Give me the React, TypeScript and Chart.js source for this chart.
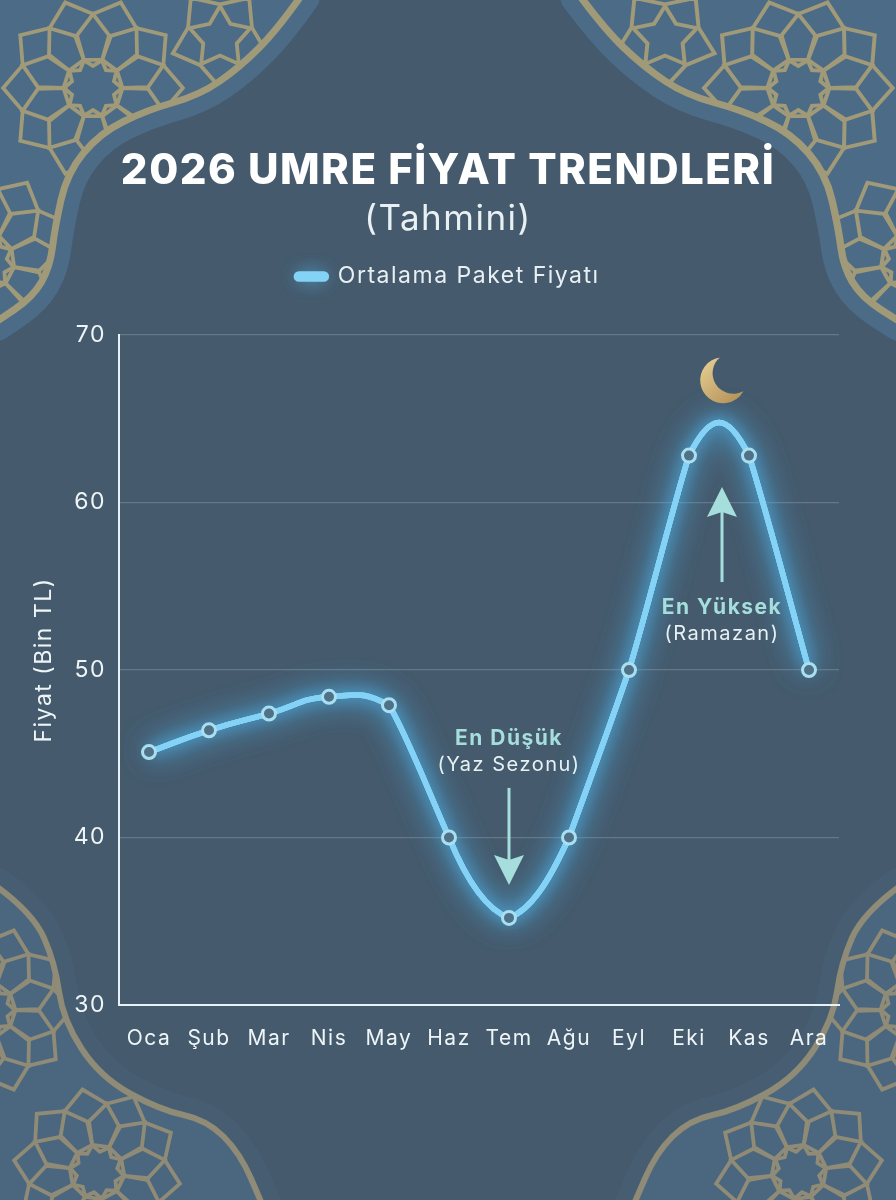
import { useEffect, useRef } from "react";
import { Chart, registerables, layouts } from "chart.js";

Chart.register(...registerables);

const months = ["Oca", "Şub", "Mar", "Nis", "May", "Haz", "Tem", "Ağu", "Eyl", "Eki", "Kas", "Ara"];
const prices = [45.1, 46.4, 47.4, 48.4, 47.9, 40, 35.2, 40, 50, 62.8, 62.8, 50];
const yTicks = [30, 40, 50, 60, 70];

const FONT = "Inter";
const TEAL = "#a6dedd";
const LINE = "#85d2f7";
const SPACING = "1.5px"; // Inter is narrower than the font in the picture

// spline handles for the steep stretches, [inDx, inDy, outDx, outDy] per month index
const handles: Record<number, number[]> = {
  4: [-26, -14, 16, 26],
  5: [-22, -50, 18, 44],
  6: [-22, -8, 22, -8],
  7: [-20, 44, 16, -44],
  8: [-17, 50, 17, -55],
  9: [-16, 50, 22, -44],
  10: [-22, -44, 16, 50],
  11: [-14, -50, 14, 50],
};

// frame curves for the left-hand corners, the right-hand ones are mirrored
const topCorner = [[301, -4], [277, 30], [240, 67], [200, 95], [147, 110], [100, 133], [67, 173], [55, 227], [50, 267], [33, 297], [-4, 322]];
const bottomCorner = [[-4, 886], [33, 913], [55, 963], [63, 1020], [100, 1077], [160, 1110], [207, 1120], [240, 1153], [262, 1204]];

function traceCurve(ctx: CanvasRenderingContext2D, pts: number[][]) {
  ctx.moveTo(pts[0][0], pts[0][1]);
  for (let i = 1; i < pts.length - 1; i++) {
    const mx = (pts[i][0] + pts[i + 1][0]) / 2;
    const my = (pts[i][1] + pts[i + 1][1]) / 2;
    ctx.quadraticCurveTo(pts[i][0], pts[i][1], mx, my);
  }
  const last = pts[pts.length - 1];
  ctx.lineTo(last[0], last[1]);
}

function polar(cx: number, cy: number, r: number, deg: number) {
  const a = (deg * Math.PI) / 180;
  return [cx + r * Math.cos(a), cy + r * Math.sin(a)];
}

function poly(ctx: CanvasRenderingContext2D, pts: number[][]) {
  ctx.beginPath();
  pts.forEach((p, i) => (i ? ctx.lineTo(p[0], p[1]) : ctx.moveTo(p[0], p[1])));
  ctx.closePath();
  ctx.stroke();
}

// ten pointed star with a ring of pentagon petals around it
function rosette(ctx: CanvasRenderingContext2D, cx: number, cy: number, r: number, rot: number) {
  const star: number[][] = [];
  for (let i = 0; i < 20; i++) star.push(polar(cx, cy, i % 2 ? r * 0.76 : r, rot + i * 18));
  poly(ctx, star);
  const ring: number[][] = [];
  for (let i = 0; i < 10; i++) {
    const a = rot + 18 + i * 36;
    poly(ctx, [
      polar(cx, cy, r * 1.02, a - 18),
      polar(cx, cy, r * 1.9, a - 17),
      polar(cx, cy, r * 2.55, a),
      polar(cx, cy, r * 1.9, a + 17),
      polar(cx, cy, r * 1.02, a + 18),
    ]);
    ring.push(polar(cx, cy, r * 2.55, a));
    ring.push(polar(cx, cy, r * 3.1, a + 18));
  }
  poly(ctx, ring);
}

function fivePoint(ctx: CanvasRenderingContext2D, cx: number, cy: number, r: number, rot: number) {
  const star: number[][] = [];
  const outer: number[][] = [];
  for (let i = 0; i < 10; i++) {
    star.push(polar(cx, cy, i % 2 ? r * 0.55 : r, rot + i * 36));
    outer.push(polar(cx, cy, i % 2 ? r * 1.55 : r * 1.05, rot + i * 36));
  }
  poly(ctx, star);
  poly(ctx, outer);
}

function drawCorner(ctx: CanvasRenderingContext2D, pts: number[][], close: number[], gold: string, band: string, fill: string, goldWidth: number, ornaments: () => void) {
  const region = () => {
    ctx.beginPath();
    traceCurve(ctx, pts);
    ctx.lineTo(close[0], close[1]);
    ctx.closePath();
  };
  ctx.save();
  // lighter band next to the gold line
  ctx.strokeStyle = band;
  ctx.lineWidth = 38;
  ctx.lineJoin = "round";
  region();
  ctx.stroke();
  ctx.fillStyle = fill;
  ctx.fill();
  ctx.save();
  region();
  ctx.clip();
  ctx.strokeStyle = gold;
  ctx.lineWidth = 3.8;
  ctx.lineJoin = "miter";
  ornaments();
  ctx.restore();
  ctx.strokeStyle = gold;
  ctx.lineWidth = goldWidth;
  ctx.beginPath();
  traceCurve(ctx, pts);
  ctx.stroke();
  ctx.restore();
}

function drawBackground(ctx: CanvasRenderingContext2D) {
  ctx.fillStyle = "#455a6c";
  ctx.fillRect(0, 0, 896, 1200);

  const top = () => {
    rosette(ctx, 93, 88, 29, 0);
    rosette(ctx, -15, 262, 29, 10);
    fivePoint(ctx, 220, 38, 32, -90);
  };
  const bottom = () => {
    rosette(ctx, 97, 1172, 27, 8);
    rosette(ctx, -12, 1010, 27, 0);
  };
  const topGold = "#a09a78";
  const bottomGold = "#8f8b76";
  drawCorner(ctx, topCorner, [-4, -4], topGold, "#4b6b87", "#4b6b87", 7, top);
  drawCorner(ctx, bottomCorner, [-4, 1204], bottomGold, "#475e72", "#4a677f", 6, bottom);

  ctx.save();
  ctx.translate(896, 0);
  ctx.scale(-316 / 301, 1);
  drawCorner(ctx, topCorner, [-4, -4], topGold, "#4b6b87", "#4b6b87", 7, top);
  ctx.restore();
  ctx.save();
  ctx.translate(896, 0);
  ctx.scale(-1, 1);
  drawCorner(ctx, bottomCorner, [-4, 1204], bottomGold, "#475e72", "#4a677f", 6, bottom);
  ctx.restore();
}

function drawArrow(ctx: CanvasRenderingContext2D, x: number, fromY: number, tipY: number) {
  const dir = tipY > fromY ? 1 : -1;
  ctx.strokeStyle = TEAL;
  ctx.fillStyle = TEAL;
  ctx.lineWidth = 3;
  ctx.beginPath();
  ctx.moveTo(x, fromY);
  ctx.lineTo(x, tipY - dir * 20);
  ctx.stroke();
  // head with a slightly notched base
  ctx.beginPath();
  ctx.moveTo(x, tipY);
  ctx.lineTo(x - 15, tipY - dir * 30);
  ctx.lineTo(x, tipY - dir * 25);
  ctx.lineTo(x + 15, tipY - dir * 30);
  ctx.closePath();
  ctx.fill();
}

function drawNote(ctx: CanvasRenderingContext2D, x: number, y: number, head: string, sub: string) {
  ctx.textAlign = "center";
  ctx.textBaseline = "middle";
  ctx.fillStyle = TEAL;
  ctx.font = `700 21px ${FONT}`;
  ctx.fillText(head, x, y);
  ctx.fillStyle = "#e6f1f4";
  ctx.font = `400 20px ${FONT}`;
  ctx.fillText(sub, x, y + 26);
}

function drawMoon(ctx: CanvasRenderingContext2D, cx: number, cy: number) {
  const tip1 = [cx - 3, cy - 23];
  const tip2 = [cx + 20, cy + 11];
  const inner = [cx + 10, cy - 7];
  const grad = ctx.createLinearGradient(cx - 20, cy - 20, cx + 15, cy + 20);
  grad.addColorStop(0, "#e6cd92");
  grad.addColorStop(1, "#b4935a");
  ctx.fillStyle = grad;
  ctx.beginPath();
  ctx.arc(cx, cy, 23, Math.atan2(tip1[1] - cy, tip1[0] - cx), Math.atan2(tip2[1] - cy, tip2[0] - cx), true);
  ctx.arc(inner[0], inner[1], 20.6, Math.atan2(tip2[1] - inner[1], tip2[0] - inner[0]), Math.atan2(tip1[1] - inner[1], tip1[0] - inner[0]), false);
  ctx.closePath();
  ctx.fill();
}

const decorations = {
  id: "decorations",
  beforeInit(chart: Chart) {
    // empty box that keeps the legend clear of the plot
    layouts.addBox(chart, {
      position: "top",
      weight: 500,
      fullSize: true,
      options: {},
      width: 0,
      height: 37,
      update(w: number) { this.width = w; },
      isHorizontal: () => true,
      draw() {},
    } as any);
  },
  beforeUpdate(chart: Chart) {
    (chart.ctx as any).letterSpacing = SPACING;
  },
  afterDatasetsUpdate(chart: Chart) {
    const line = chart.getDatasetMeta(0).dataset as any;
    line.updateControlPoints(chart.chartArea, "x");
    const pts = line.points;
    Object.keys(handles).forEach((key) => {
      const p = pts[+key];
      const h = handles[+key];
      p.cp1x = p.x + h[0];
      p.cp1y = p.y + h[1];
      p.cp2x = p.x + h[2];
      p.cp2y = p.y + h[3];
    });
  },
  beforeDraw(chart: Chart) {
    const ctx = chart.ctx;
    (ctx as any).letterSpacing = SPACING;
    ctx.save();
    drawBackground(ctx);
    // glow behind the legend sample
    const box = (chart.legend as any)?.legendHitBoxes?.[0];
    if (box) {
      ctx.shadowColor = "#55bdf2";
      ctx.shadowBlur = 18;
      ctx.fillStyle = LINE;
      ctx.fillRect(box.left + 2, box.top + box.height / 2 - 2, 26, 4);
      ctx.fillRect(box.left + 2, box.top + box.height / 2 - 2, 26, 4);
    }
    ctx.restore();
  },
  beforeDatasetDraw(chart: Chart, args: any) {
    // blurred passes of the line for the neon glow
    const ctx = chart.ctx;
    const line = chart.getDatasetMeta(args.index).dataset as any;
    ctx.save();
    ctx.shadowColor = "#4fb6ee";
    ctx.shadowBlur = 30;
    line.draw(ctx, chart.chartArea);
    line.draw(ctx, chart.chartArea);
    ctx.shadowBlur = 14;
    line.draw(ctx, chart.chartArea);
    ctx.restore();
  },
  afterDraw(chart: Chart) {
    const ctx = chart.ctx;
    const x = chart.scales.x;
    const y = chart.scales.y;
    ctx.save();
    // axis title, sits a little above the middle of the axis
    ctx.save();
    ctx.translate(44, y.getPixelForValue(50.6));
    ctx.rotate(-Math.PI / 2);
    ctx.textAlign = "center";
    ctx.textBaseline = "middle";
    ctx.fillStyle = "#eef5f7";
    ctx.font = `400 23px ${FONT}`;
    ctx.fillText("Fiyat (Bin TL)", 0, 0);
    ctx.restore();

    drawNote(ctx, x.getPixelForValue(6), y.getPixelForValue(45.9), "En Düşük", "(Yaz Sezonu)");
    drawArrow(ctx, x.getPixelForValue(6), y.getPixelForValue(42.96), y.getPixelForValue(37.16));
    drawNote(ctx, x.getPixelForValue(9.55), y.getPixelForValue(53.7), "En Yüksek", "(Ramazan)");
    drawArrow(ctx, x.getPixelForValue(9.55), y.getPixelForValue(55.25), y.getPixelForValue(60.93));
    drawMoon(ctx, x.getPixelForValue(9.57), y.getPixelForValue(67.3));
    ctx.restore();
  },
};

export default function App() {
  const canvasRef = useRef<HTMLCanvasElement>(null);

  useEffect(() => {
    document.body.style.margin = "0";
    if (!canvasRef.current) return;
    const chart = new Chart(canvasRef.current, {
      type: "line",
      data: {
        labels: months,
        datasets: [
          {
            label: "Ortalama Paket Fiyatı",
            data: prices,
            borderColor: LINE,
            backgroundColor: LINE,
            borderWidth: 5.5,
            tension: 0.5,
            fill: false,
            pointRadius: 6.5,
            pointBorderWidth: 3,
            pointBackgroundColor: "#4f7288",
            pointBorderColor: "#a9dff0",
          },
        ],
      },
      options: {
        responsive: false,
        animation: false,
        layout: { padding: { left: 0, right: 0, top: 0, bottom: 120 } },
        plugins: {
          title: {
            display: true,
            text: "2026 UMRE FİYAT TRENDLERİ",
            color: "#ffffff",
            font: { family: FONT, size: 42, weight: 800, lineHeight: 1 },
            padding: { top: 150, bottom: 10 },
          },
          subtitle: {
            display: true,
            text: "(Tahmini)",
            color: "#e8f0f3",
            font: { family: FONT, size: 35, weight: 400, lineHeight: 1 },
            padding: { top: 0, bottom: 18 },
          },
          legend: {
            display: true,
            labels: {
              color: "#e8f0f3",
              font: { family: FONT, size: 23 },
              boxWidth: 30,
              boxHeight: 5,
              useBorderRadius: true,
              borderRadius: 2.5,
              padding: 10,
            },
          },
          tooltip: { enabled: false },
        },
        scales: {
          x: {
            offset: true,
            afterFit: (s: any) => { s.height = 75; s.paddingRight = 57; },
            grid: { display: false },
            border: { color: "#e8f2f6", width: 2 },
            ticks: { color: "#eef5f7", font: { family: FONT, size: 21 }, padding: 13, maxRotation: 0 },
          },
          y: {
            min: yTicks[0],
            max: yTicks[yTicks.length - 1],
            afterFit: (s: any) => { s.width = 119; },
            afterBuildTicks: (s: any) => { s.ticks = yTicks.map((value) => ({ value })); },
            grid: { color: "rgba(255,255,255,0.18)", drawTicks: false, lineWidth: 1.2 },
            border: { color: "#e8f2f6", width: 2 },
            ticks: { color: "#eef5f7", font: { family: FONT, size: 23 }, padding: 13 },
          },
        },
      },
      plugins: [decorations],
    });
    return () => chart.destroy();
  }, []);

  return (
    <div style={{ position: "relative", width: 896, height: 1200 }}>
      <canvas ref={canvasRef} width={896} height={1200} />
    </div>
  );
}
